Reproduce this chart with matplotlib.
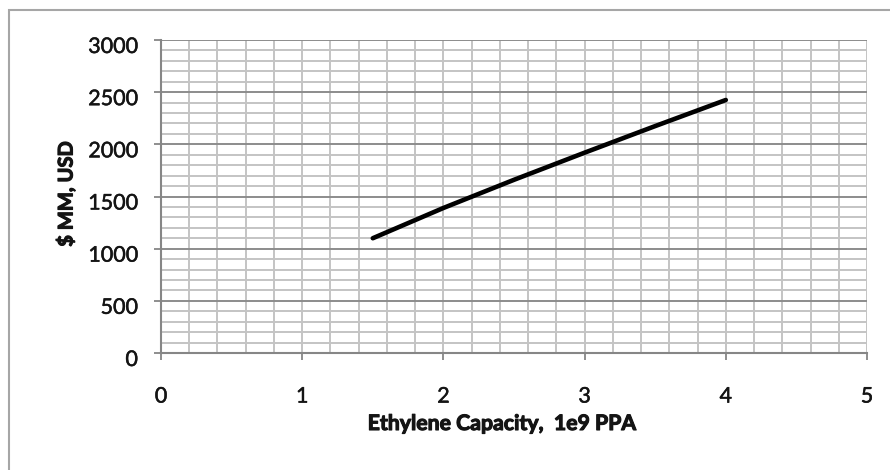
import matplotlib
matplotlib.use("Agg")
import matplotlib.pyplot as plt
import matplotlib.transforms as mtransforms
import matplotlib.patheffects as pe
from matplotlib.patches import Rectangle
import numpy as np

# Data
capacity = [1.5, 2.0, 2.5, 3.0, 3.5, 4.0]
cost = [1100, 1390, 1660, 1920, 2175, 2425]
x_ticks = [0, 1, 2, 3, 4, 5]
y_ticks = [0, 500, 1000, 1500, 2000, 2500, 3000]
x_label = "Ethylene Capacity,  1e9 PPA"
y_label = "$ MM, USD"

plt.rcParams['font.family'] = ['Lato', 'DejaVu Sans']

W, H = 890, 470
fig = plt.figure(figsize=(W / 100, H / 100), dpi=100)
fig.patch.set_facecolor('white')

# outer chart border (only top/left visible)
fig.patches.append(Rectangle((9 / W, -0.1), 1.2, 1 - 10 / H + 0.1,
                             transform=fig.transFigure, fill=False,
                             edgecolor='#a6a6a6', linewidth=1.5))

L, R, T, B = 161, 867, 40, 353
ax = fig.add_axes([L / W, 1 - B / H, (R - L) / W, (B - T) / H])

ax.set_xlim(0, 5)
ax.set_ylim(0, 3000)

minor_c = '#c4c4c4'
major_c = '#8c8c8c'
# vertical (light) gridlines every 0.2
for xv in np.arange(0.2, 5.01, 0.2):
    ax.axvline(xv, color=minor_c, lw=1.4, zorder=1)
# horizontal minor gridlines every 100
for yv in np.arange(100, 3001, 100):
    if int(round(yv)) % 500 != 0:
        ax.axhline(yv, color=minor_c, lw=1.4, zorder=1)
for yv in y_ticks[1:]:
    ax.axhline(yv, color=major_c, lw=1.4, zorder=1.5)

ax.plot(capacity, cost, color='black', lw=3.3, solid_capstyle='round',
        solid_joinstyle='round', zorder=3)

ax.set_xticks(x_ticks)
ax.set_yticks(y_ticks)
ax.set_xticklabels([str(v) for v in x_ticks])
ax.set_yticklabels([str(v) for v in y_ticks])

for s in ['top', 'right']:
    ax.spines[s].set_visible(False)
for s in ['left', 'bottom']:
    ax.spines[s].set_color('#868686')
    ax.spines[s].set_linewidth(1.5)
    ax.spines[s].set_zorder(2)

txt_c = '#141414'
ax.tick_params(axis='both', direction='out', length=5.2, width=1.3,
               color='#868686', labelsize=15.5, labelcolor=txt_c)
ax.tick_params(axis='y', pad=11.5)
ax.tick_params(axis='x', pad=19)

offset = mtransforms.ScaledTranslation(0, -0.05, fig.dpi_scale_trans)
tick_fx = [pe.withStroke(linewidth=0.35, foreground=txt_c)]
for lab in ax.get_yticklabels():
    lab.set_transform(lab.get_transform() + offset)
    lab.set_path_effects(tick_fx)
for lab in ax.get_xticklabels():
    lab.set_path_effects(tick_fx)

lab_fx = [pe.withStroke(linewidth=0.8, foreground=txt_c)]
fig.text(502 / W, 1 - 430 / H, x_label, ha='center', va='baseline',
         fontsize=15.3, fontweight='bold', color=txt_c, path_effects=lab_fx)
fig.text(66 / W, 1 - 194 / H, y_label, ha='center', va='center',
         rotation=90, fontsize=14.5, fontweight='bold', color=txt_c,
         path_effects=lab_fx)

fig.savefig('out.png', dpi=100, facecolor='white')
